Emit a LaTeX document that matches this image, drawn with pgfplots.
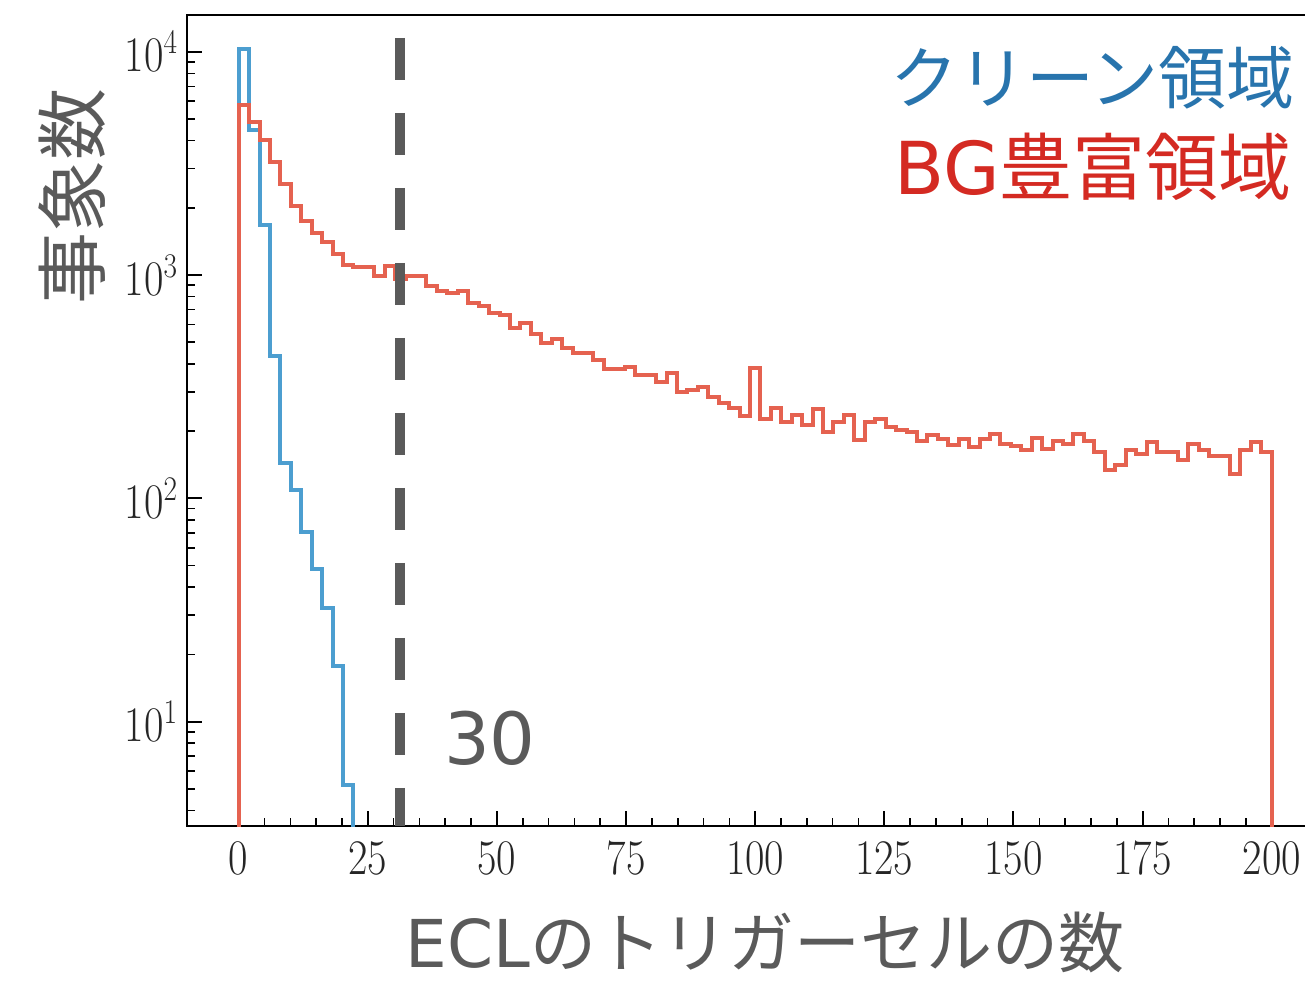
\documentclass[border=0pt]{standalone}
\usepackage{pgfplots}
\pgfplotsset{compat=1.18}
\usepackage{fontspec}
\usepackage{graphicx}
\newfontfamily\cjk{Noto Sans CJK JP}
\newfontfamily\dv{DejaVu Sans}
\definecolor{hblue}{HTML}{4C9ED0}
\definecolor{hred}{HTML}{E56250}
\definecolor{tblue}{HTML}{2874AD}
\definecolor{tred}{HTML}{D42A22}
\definecolor{dgray}{HTML}{5A5A5A}
\newcommand{\sx}[1]{\scalebox{0.85}[1]{#1}}
\begin{document}
\begin{tikzpicture}
\begin{axis}[
  at={(0pt,0pt)}, anchor=south west,
  scale only axis, width=568.2pt, height=405.5pt,
  xmin=-10, xmax=210, ymode=log, ymin=3.41, ymax=14600,
  axis line style={line width=1.2pt, black},
  tick align=inside, xtick pos=bottom, ytick pos=left,
  xtick={0,25,...,200}, minor x tick num=4,
  xticklabel={\sx{$\pgfmathprintnumber{\tick}$}},
  ytick={10,100,1000,10000},
  yticklabels={\sx{$10^{1}$},\sx{$10^{2}$},\sx{$10^{3}$},\sx{$10^{4}$}},
  minor ytick={4,5,6,7,8,9,20,30,40,50,60,70,80,90,200,300,400,500,600,700,800,900,2000,3000,4000,5000,6000,7000,8000,9000},
  major tick length=7.5pt, minor tick length=4pt,
  major tick style={line width=1pt, black},
  minor tick style={line width=0.8pt, black},
  tick label style={font=\fontsize{25}{30}\selectfont, text=black!85},
  xticklabel style={yshift=-4.7pt},
  yticklabel style={xshift=-1pt},
]
\addplot[hblue, line width=2pt, const plot, line join=miter] coordinates {
(0,1) (0,10300) (2.0202,4470) (4.0404,1680) (6.0606,435) (8.0808,144)
(10.101,109) (12.1212,71) (14.1414,48.5) (16.1616,32.2) (18.1818,17.8)
(20.202,5.2) (22.2222,5.2) (22.2222,1)};
\addplot[hred, line width=2pt, const plot, line join=miter] coordinates {
(0,1) (0,5780) (2.0202,4820) (4.0404,4040) (6.0606,3210) (8.0808,2560)
(10.101,2030) (12.1212,1740) (14.1414,1546) (16.1616,1409) (18.1818,1237)
(20.202,1109) (22.2222,1089) (24.2424,1089) (26.2626,993) (28.2828,1100)
(30.303,960) (32.3232,993) (34.3434,993) (36.3636,896) (38.3838,851)
(40.404,828) (42.4242,846) (44.4444,750) (46.4646,729) (48.4848,677)
(50.5051,659) (52.5253,580) (54.5455,611) (56.5657,545) (58.5859,498)
(60.6061,515) (62.6263,473) (64.6465,449) (66.6667,449) (68.6869,415)
(70.7071,378) (72.7273,378) (74.7475,388) (76.7677,356) (78.7879,356)
(80.8081,332) (82.8283,366) (84.8485,300) (86.8687,305) (88.8889,314)
(90.9091,283) (92.9293,268) (94.9495,255) (96.9697,234) (98.9899,384)
(101.0101,226) (103.0303,255) (105.0505,219) (107.0707,236) (109.0909,213)
(111.1111,250) (113.1313,198) (115.1515,219) (117.1717,236) (119.1919,183)
(121.2121,219) (123.2323,226) (125.2525,209) (127.2727,203) (129.2929,199)
(131.3131,181) (133.3333,192) (135.3535,185) (137.3737,173) (139.3939,185)
(141.4141,169) (143.4343,185) (145.4545,194) (147.4747,175) (149.4949,171)
(151.5152,165) (153.5354,187) (155.5556,167) (157.5758,180) (159.596,175)
(161.6162,194) (163.6364,180) (165.6566,162) (167.6768,134) (169.697,141)
(171.7172,165) (173.7374,158) (175.7576,179) (177.7778,162) (179.798,162)
(181.8182,149) (183.8384,175) (185.8586,165) (187.8788,154) (189.899,154)
(191.9192,129) (193.9394,165) (195.9596,179) (197.9798,162) (200,162) (200,1)};
\draw[dgray, line width=5pt, line cap=butt, dash pattern=on 21pt off 16.5pt]
  (axis cs:31.2,11520) -- (axis cs:31.2,3.41);
\end{axis}
\node[rotate=90, text=dgray, font=\fontsize{36}{42}\selectfont\cjk, inner sep=0pt] at (-57.5pt,314.5pt) {事象数};
\node[anchor=base, text=dgray, font=\fontsize{33}{40}\selectfont, inner sep=0pt] at (289pt,-70.5pt) {{\dv ECL}{\cjk のトリガーセルの数}};
\node[anchor=east, text=tblue, font=\fontsize{34}{40}\selectfont\cjk, inner sep=0pt] at (554pt,374pt) {クリーン領域};
\node[anchor=east, text=tred, font=\fontsize{36.5}{42}\selectfont, inner sep=0pt] at (552.5pt,329.5pt) {{\dv BG}{\cjk 豊富領域}};
\node[text=dgray, font=\fontsize{36}{42}\selectfont\dv, inner sep=0pt] at (151.5pt,44pt) {30};
\pgfresetboundingbox
\useasboundingbox (-93.5pt,-77pt) rectangle (559pt,413pt);
\end{tikzpicture}
\end{document}
